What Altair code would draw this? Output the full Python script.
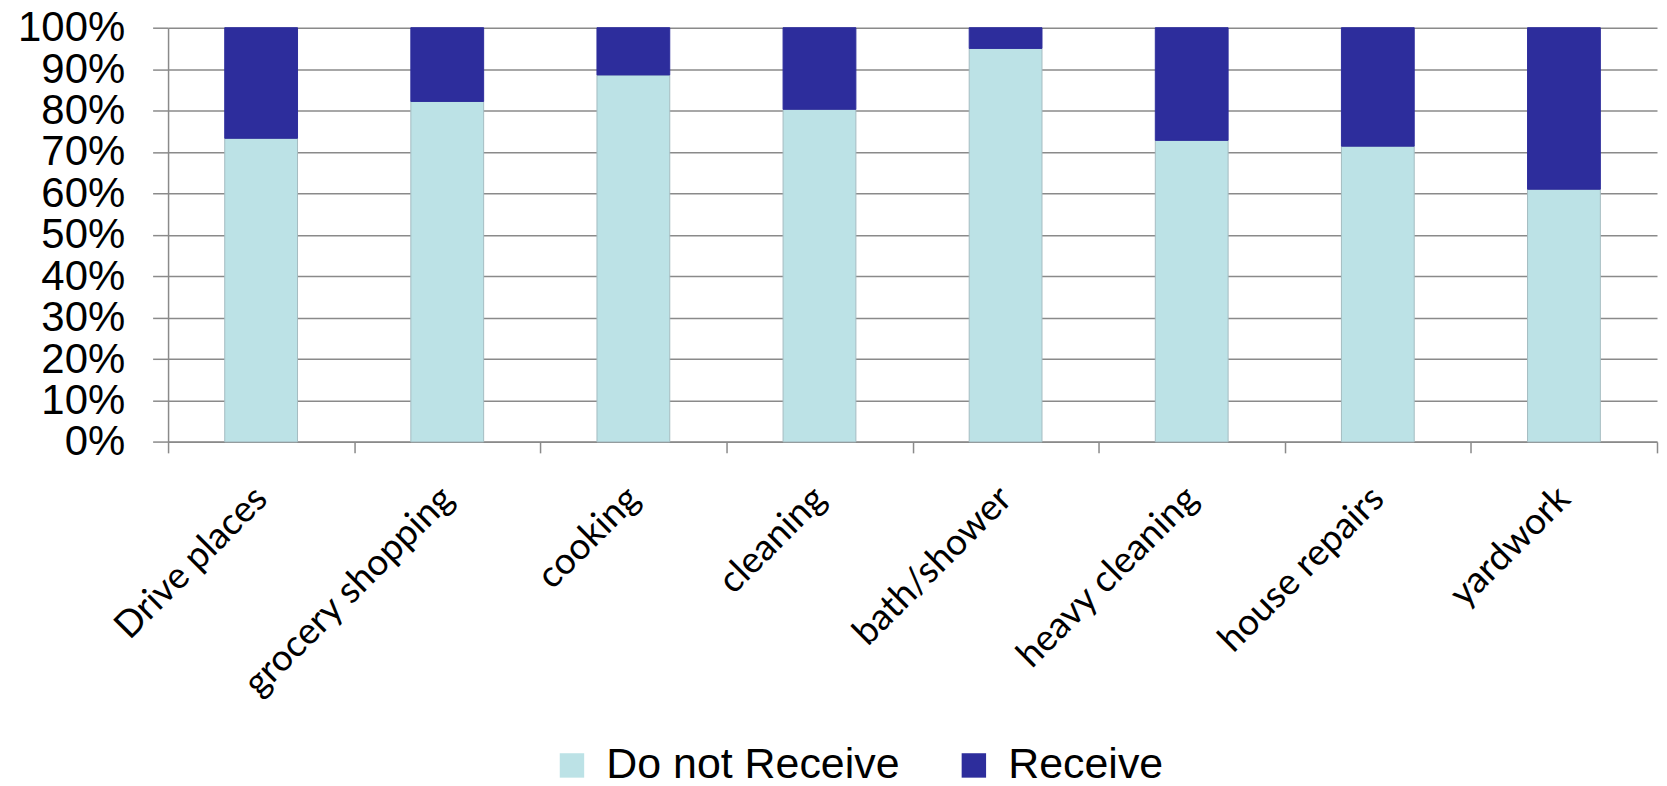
import altair as alt
import pandas as pd

categories = ["Drive places", "grocery shopping", "cooking", "cleaning",
              "bath/shower", "heavy cleaning", "house repairs", "yardwork"]
do_not_receive = [73.3, 82.2, 88.6, 80.3, 95.0, 72.8, 71.4, 61.0]
receive = [26.7, 17.8, 11.4, 19.7, 5.0, 27.2, 28.6, 39.0]
series = ["Do not Receive", "Receive"]
fill_colors = ["#bce2e6", "#2d2d9c"]
edge_colors = ["#a5bcc1", "#2d2d9c"]
y_ticks = [0, 10, 20, 30, 40, 50, 60, 70, 80, 90, 100]

rows = []
for i, c in enumerate(categories):
    rows.append({"task": c, "status": series[0], "value": do_not_receive[i], "ord": 0})
    rows.append({"task": c, "status": series[1], "value": receive[i], "ord": 1})
df = pd.DataFrame(rows)

GRAY = "#8a8a8a"

chart = alt.Chart(df).mark_bar(size=73, strokeWidth=1).encode(
    x=alt.X("task:N", sort=categories,
            scale=alt.Scale(paddingInner=0, paddingOuter=0),
            axis=alt.Axis(title=None, labelAngle=-45, labelAlign="right", labelBaseline="middle",
                          labelFont="Lato", labelFontSize=37, labelColor="black",
                          labelPadding=40, labelLimit=600, labelOverlap=False,
                          tickBand="extent", tickSize=11, tickColor=GRAY, tickWidth=1.5,
                          domainColor=GRAY, domainWidth=1.5, grid=False)),
    y=alt.Y("value:Q", stack="zero",
            scale=alt.Scale(domain=[0, 100], nice=False),
            axis=alt.Axis(title=None, values=y_ticks, labelExpr="datum.value + '%'",
                          labelFont="Liberation Sans", labelFontSize=42, labelColor="black",
                          labelPadding=28, labelOverlap=False, labelFlush=False,
                          tickSize=15.5, tickColor=GRAY, tickWidth=1.5,
                          domainColor=GRAY, domainWidth=1.5,
                          gridColor=GRAY, gridWidth=1.5)),
    color=alt.Color("status:N", scale=alt.Scale(domain=series, range=fill_colors),
                    legend=alt.Legend(title=None, orient="none", legendX=383.5, legendY=718,
                                      direction="horizontal", symbolType="square",
                                      symbolSize=600, symbolStrokeWidth=0,
                                      labelFont="Liberation Sans", labelFontSize=43,
                                      labelColor="black", labelOffset=13, labelLimit=600,
                                      columnPadding=53, padding=0)),
    stroke=alt.Stroke("status:N", scale=alt.Scale(domain=series, range=edge_colors), legend=None),
    order=alt.Order("ord:Q", sort="ascending"),
).properties(
    width=1493, height=415.3,
    padding={"left": 160.5, "top": 18.7, "right": 2, "bottom": 344},
    autosize=alt.AutoSizeParams(type="none"),
).configure_view(stroke=None)

chart.save("out.html", embed_options={"renderer": "svg", "actions": False})
